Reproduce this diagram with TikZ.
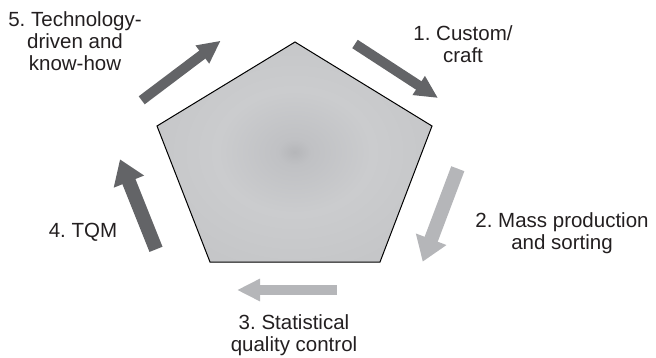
\documentclass[tikz,border=0pt]{standalone}
\usepackage{fontspec}
\setmainfont{Liberation Sans}
\usetikzlibrary{arrows.meta}

% palette
\definecolor{arrowdark}{RGB}{99,100,103}
\definecolor{arrowlight}{RGB}{181,182,185}
\definecolor{labelink}{RGB}{35,31,32}
\definecolor{shadeA}{RGB}{181,182,185}
\definecolor{shadeB}{RGB}{192,193,196}
\definecolor{shadeC}{RGB}{203,204,206}
\definecolor{shadeD}{RGB}{196,197,199}
\definecolor{shadeE}{RGB}{183,184,187}

% soft grey fill: dark core, light ring, darker rim
\pgfdeclareradialshading{pentagonfill}{\pgfpoint{0bp}{0bp}}{%
  color(0bp)=(shadeA); color(3bp)=(shadeB); color(14bp)=(shadeC);
  color(30bp)=(shadeD); color(50bp)=(shadeE)}

\begin{document}
\frenchspacing
\begin{tikzpicture}[x=1pt,y=-1pt,
  txt/.style={font=\fontsize{20.5}{22}\selectfont\frenchspacing, align=center,
    anchor=north, inner sep=0pt, text=labelink},
  bigarrow/.style={line width=14pt, -{Triangle[width=31pt,length=24pt]}},
  smallarrow/.style={line width=10pt, -{Triangle[width=21pt,length=23pt]}},
]
\useasboundingbox (0,0) rectangle (656,357);

% pentagon corners
\coordinate (pa) at (295,42);
\coordinate (pb) at (432,126);
\coordinate (pc) at (380,262);
\coordinate (pd) at (210,262);
\coordinate (pe) at (157,126);
\path[draw=black, line width=1pt, line join=miter, shade, shading=pentagonfill]
  (pa) -- (pb) -- (pc) -- (pd) -- (pe) -- cycle;

% arrow ends
\coordinate (a1t) at (355,44);    \coordinate (a1h) at (438,98);
\coordinate (a2t) at (457.8,168.7); \coordinate (a2h) at (422.7,261.7);
\coordinate (a3t) at (337,290);   \coordinate (a3h) at (237,290);
\coordinate (a4t) at (156,249.3); \coordinate (a4h) at (120,159.3);
\coordinate (a5t) at (141.7,100.3); \coordinate (a5h) at (220.7,40.7);

\draw[smallarrow, draw=arrowdark, fill=arrowdark] (a1t) -- (a1h);
\draw[bigarrow, draw=arrowlight, fill=arrowlight] (a2t) -- (a2h);
\draw[smallarrow, draw=arrowlight, fill=arrowlight] (a3t) -- (a3h);
\draw[bigarrow, draw=arrowdark, fill=arrowdark] (a4t) -- (a4h);
\draw[smallarrow, draw=arrowdark, fill=arrowdark] (a5t) -- (a5h);

% stage labels
\node[txt] (l1) at (463,25.2) {1. Custom/\\craft};
\node[txt] (l2) at (562,212.2) {2. Mass production\\and sorting};
\node[txt] (l3) at (294,314.2) {3. Statistical\\quality control};
\node[txt] (l4) at (83,223.4) {4. TQM};
\node[txt] (l5) at (75,11.2) {5. Technology-\\driven and\\know-how};
\end{tikzpicture}
\end{document}
